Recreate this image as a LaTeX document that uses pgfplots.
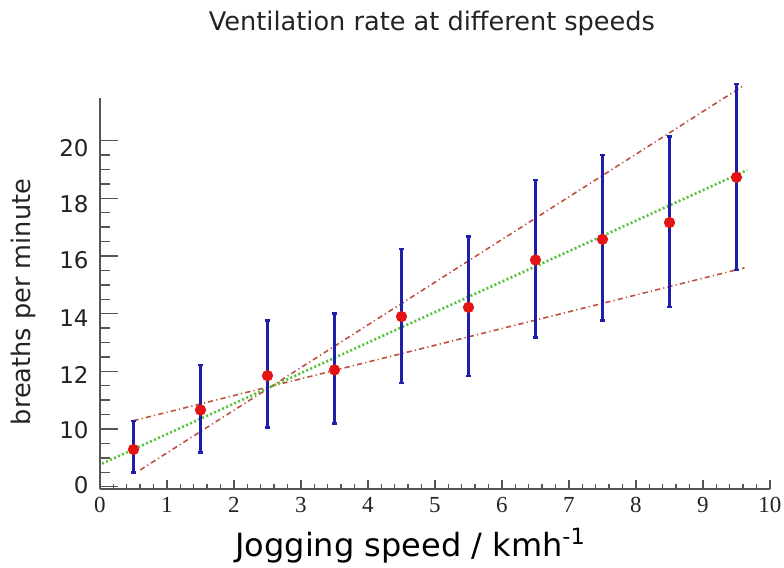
\documentclass[border=0pt]{standalone}
\usepackage{pgfplots}
\pgfplotsset{compat=1.18}
\usepackage{pgfplotstable}
\usepackage{fontspec}
\setmainfont{DejaVu Sans}
\newfontfamily\tnr{Liberation Serif}
\definecolor{barblue}{RGB}{30,30,170}
\definecolor{ptred}{RGB}{228,20,20}
\definecolor{linered}{RGB}{190,80,62}
\definecolor{linegreen}{RGB}{85,195,60}
\definecolor{axgray}{RGB}{85,85,85}
\definecolor{txt}{RGB}{35,35,35}

\pgfplotstableread{
x y ep em
0.5 9.29 0.99 0.80
1.5 10.66 1.55 1.48
2.5 11.85 1.92 1.80
3.5 12.05 1.96 1.86
4.5 13.90 2.34 2.30
5.5 14.22 2.45 2.38
6.5 15.86 2.78 2.69
7.5 16.58 2.93 2.81
8.5 17.16 2.98 2.92
9.5 18.73 3.23 3.21
}\data

\pgfplotsset{
  base/.style={
    scale only axis, width=335pt, height=195.5pt,
    xmin=0, xmax=10, ymin=7.92, ymax=21.48,
    clip=false, tick align=inside,
    axis line style={axgray, line width=1pt},
    every tick/.style={axgray, line width=0.7pt},
  }
}

\begin{document}
\begin{tikzpicture}
\useasboundingbox (-50pt,-39.5pt) rectangle (342pt,244.5pt);
\begin{axis}[base,
  axis x line*=bottom, axis y line*=left,
  ytick=\empty,
  xtick={0,1,...,10}, minor x tick num=4,
  major tick length=4.5pt, minor tick length=2.3pt,
  xticklabels={0,1,2,3,4,5,6,7,8,9,10},
  xticklabel style={font=\tnr\fontsize{11.5}{12}\selectfont, text=txt, yshift=-0.5pt},
]
\addplot[linered, line width=0.8pt, dash pattern=on 2.6pt off 1.6pt on 0.6pt off 1.6pt] coordinates {(0.6,8.58) (9.62,21.93)};
\addplot[linered, line width=0.8pt, dash pattern=on 2.6pt off 1.6pt on 0.6pt off 1.6pt] coordinates {(0.5,10.29) (9.62,15.59)};
\addplot[linegreen, line width=1.3pt, dash pattern=on 1pt off 1.2pt] coordinates {(0.03,8.80) (9.66,18.98)};
\addplot[draw=none, mark=none,
  error bars/.cd, y dir=both, y explicit,
  error bar style={barblue, line width=1.4pt},
  error mark options={barblue, rotate=90, mark size=1.3pt, line width=1.2pt}]
  table[x=x, y=y, y error plus=ep, y error minus=em] {\data};
\addplot[only marks, mark=*, mark size=2.6pt, mark options={fill=ptred, draw=ptred}]
  table[x=x, y=y] {\data};
\end{axis}
\begin{axis}[base,
  axis x line=none, axis y line*=left,
  ytick={8,10,...,20}, yticklabels={},
  minor y tick num=3,
  major tick length=9pt, minor tick length=5pt,
  extra y ticks={8.06,9.97,11.87,13.86,15.84,17.80,19.75},
  extra y tick labels={0,10,12,14,16,18,20},
  extra y tick style={major tick length=0pt},
  yticklabel style={font=\fontsize{11.5}{12}\selectfont, text=txt, anchor=east, xshift=-2.2pt},
]
\addplot[draw=none] coordinates {(0,10) (10,20)};
\end{axis}
\node[anchor=base, font=\fontsize{12.8}{14}\selectfont, text=txt] at (166pt,229pt) {Ventilation rate at different speeds};
\node[rotate=90, font=\fontsize{12.8}{14}\selectfont, text=txt] at (-38.5pt,93.5pt) {breaths per minute};
\node[anchor=base west, font=\fontsize{16}{18}\selectfont, text=black, inner sep=0pt] at (67.5pt,-34pt) {Jogging speed / kmh\textsuperscript{-1}};
\end{tikzpicture}
\end{document}
